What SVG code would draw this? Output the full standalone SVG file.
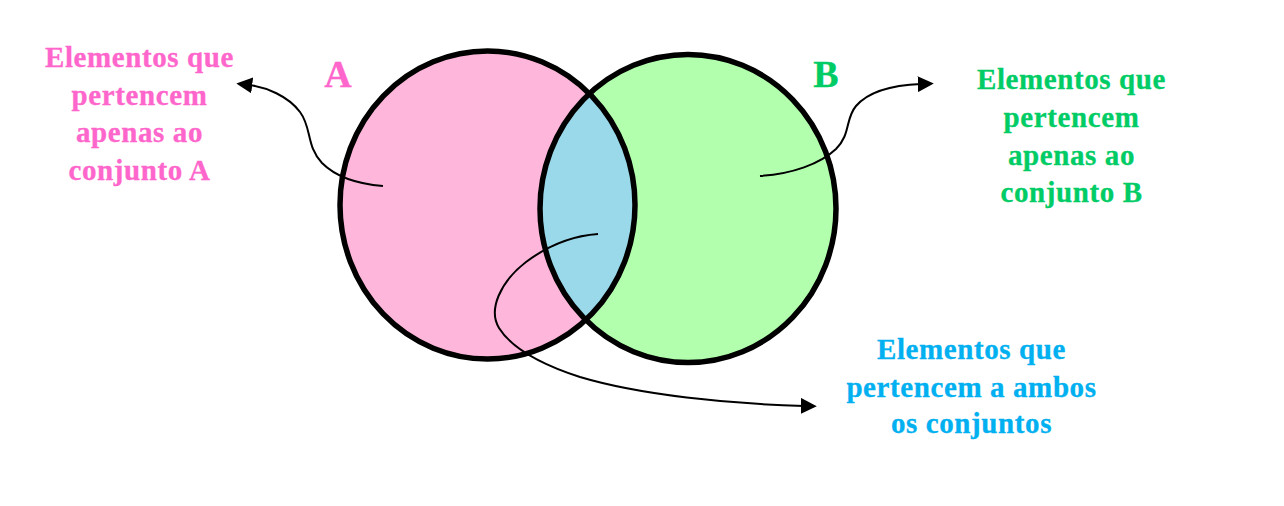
<svg xmlns="http://www.w3.org/2000/svg" width="1284" height="506" viewBox="0 0 1284 506">
<style>
.lbl{font-family:"Liberation Serif","Times New Roman",serif;font-weight:bold;font-size:29px;letter-spacing:0.6px;text-anchor:middle;stroke-width:0.3px}
.big{font-family:"Liberation Serif","Times New Roman",serif;font-weight:bold;font-size:38px;text-anchor:middle;stroke-width:0.3px}
.pink{fill:#FF66CC;stroke:#FF66CC}
.green{fill:#00CC66;stroke:#00CC66}
.blue{fill:#00B0F0;stroke:#00B0F0}
.edge{fill:none;stroke:#000;stroke-width:5.5}
.conn{fill:none;stroke:#000;stroke-width:2;marker-end:url(#arr)}
</style>
<defs>
<marker id="arr" viewBox="0 0 10 10" refX="2" refY="5" markerWidth="8" markerHeight="8" markerUnits="strokeWidth" orient="auto">
<path d="M0,0 L10,5 L0,10 Z" fill="#000"/>
</marker>
<clipPath id="clipA"><ellipse cx="487.5" cy="205" rx="147.5" ry="154"/></clipPath>
</defs>
<rect width="1284" height="506" fill="#fff"/>
<g id="setA">
<ellipse cx="487.5" cy="205" rx="147.5" ry="154" fill="#FFB6DB"/>
</g>
<g id="setB">
<ellipse cx="688" cy="208.5" rx="148" ry="154" fill="#B2FFAE"/>
</g>
<g id="intersection">
<ellipse cx="688" cy="208.5" rx="148" ry="154" fill="#99D9EA" clip-path="url(#clipA)"/>
</g>
<g id="outlines">
<ellipse class="edge" cx="487.5" cy="205" rx="147.5" ry="154"/>
<ellipse class="edge" cx="688" cy="208.5" rx="148" ry="154"/>
</g>
<g id="connectors">
<path class="conn" d="M383,186 C358,184 336,177 322,163 C306,146 312,128 300,112 C288,96 266,87 249,85"/>
<path class="conn" d="M760,176 C792,174 820,164 836,149 C851,134 845,119 856,106 C869,91 895,85 921,84"/>
<path class="conn" d="M598,234 C570,236 546,247 526,262 C500,282 488,310 499,328 C511,347 540,364 580,377 C640,395 730,404 804,406"/>
</g>
<g id="labelA">
<text class="big pink" x="338" y="87">A</text>
</g>
<g id="labelB">
<text class="big green" x="826" y="87">B</text>
</g>
<g id="textA">
<text class="lbl pink" x="139.5" y="67">Elementos que</text>
<text class="lbl pink" x="139.5" y="104.5">pertencem</text>
<text class="lbl pink" x="139.5" y="142">apenas ao</text>
<text class="lbl pink" x="139.5" y="180">conjunto A</text>
</g>
<g id="textB">
<text class="lbl green" x="1071.5" y="89">Elementos que</text>
<text class="lbl green" x="1071.5" y="127">pertencem</text>
<text class="lbl green" x="1071.5" y="165">apenas ao</text>
<text class="lbl green" x="1071.5" y="202">conjunto B</text>
</g>
<g id="textAB">
<text class="lbl blue" x="971.5" y="359">Elementos que</text>
<text class="lbl blue" x="971.5" y="397">pertencem a ambos</text>
<text class="lbl blue" x="971.5" y="433">os conjuntos</text>
</g>
</svg>
